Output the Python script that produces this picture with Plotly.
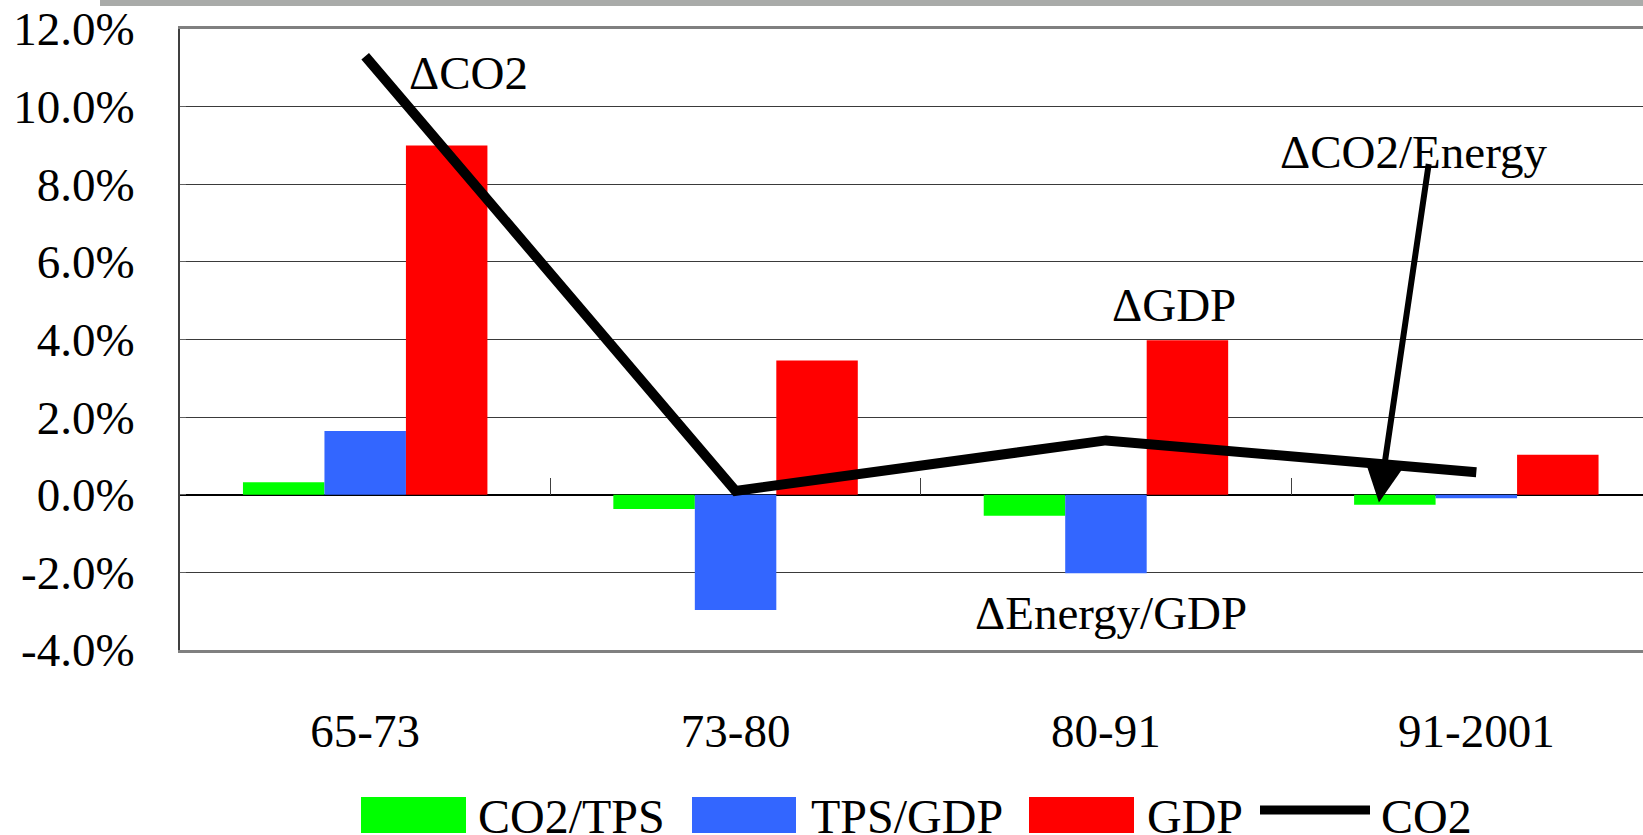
import plotly.graph_objects as go

# ---------------- data ----------------
categories = ["65-73", "73-80", "80-91", "91-2001"]
co2_tps = [0.32, -0.37, -0.54, -0.26]      # % per year
tps_gdp = [1.64, -2.97, -2.02, -0.09]
gdp = [9.0, 3.46, 3.98, 1.03]
co2 = [11.3, 0.1, 1.40, 0.58]
y_tickvals = [-4, -2, 0, 2, 4, 6, 8, 10, 12]
y_ticktext = ["-4.0%", "-2.0%", "0.0%", "2.0%", "4.0%", "6.0%", "8.0%", "10.0%", "12.0%"]

series_names = ["CO2/TPS", "TPS/GDP", "GDP", "CO2"]
c_green, c_blue, c_red, c_black = "#00FF00", "#3366FF", "#FF0000", "#000000"

FONT = "Liberation Serif"
W, H = 1643, 835
ML, MR, MT, MB = 180, 0, 29, 185
PW, PH = W - ML - MR, H - MT - MB


def px_x(px):
    return (px - ML) / PW


def px_y(py):
    return (H - MB - py) / PH


fig = go.Figure()
fig.add_trace(go.Bar(x=categories, y=co2_tps, name=series_names[0], marker_color=c_green, marker_line_width=0))
fig.add_trace(go.Bar(x=categories, y=tps_gdp, name=series_names[1], marker_color=c_blue, marker_line_width=0))
fig.add_trace(go.Bar(x=categories, y=gdp, name=series_names[2], marker_color=c_red, marker_line_width=0))
fig.add_trace(go.Scatter(x=categories, y=co2, name=series_names[3], mode="lines",
                         line=dict(color=c_black, width=10)))
# invisible trace so the boundary-tick axis at y=0 is drawn
fig.add_trace(go.Scatter(x=categories, y=co2, xaxis="x2", mode="lines",
                         line=dict(width=0), opacity=0, hoverinfo="skip", showlegend=False))

shapes = []
annotations = []

# top gray band (slide decoration)
shapes.append(dict(type="rect", xref="paper", yref="paper", x0=px_x(100), x1=px_x(W), y0=px_y(6), y1=px_y(0),
                   fillcolor="#a9aba9", line_width=0, layer="above"))

# manual legend
legend_items = [
    ("rect", c_green, 361, 466, series_names[0], 476),
    ("rect", c_blue, 692, 796, series_names[1], 809),
    ("rect", c_red, 1029, 1134, series_names[2], 1145),
    ("line", c_black, 1260, 1370, series_names[3], 1379),
]
for kind, col, x0, x1, label, tx in legend_items:
    if kind == "rect":
        shapes.append(dict(type="rect", xref="paper", yref="paper", x0=px_x(x0), x1=px_x(x1),
                           y0=px_y(833), y1=px_y(797), fillcolor=col, line_width=0))
    else:
        shapes.append(dict(type="line", xref="paper", yref="paper", x0=px_x(x0), x1=px_x(x1),
                           y0=px_y(810), y1=px_y(810), line=dict(color=col, width=9)))
    annotations.append(dict(text=label, xref="paper", yref="paper", x=px_x(tx), y=px_y(816),
                            xanchor="left", yanchor="middle", showarrow=False,
                            font=dict(family=FONT, size=48, color="#000000")))

# text labels in chart
for txt, tx, ty in [("ΔCO2", 407, 73), ("ΔCO2/Energy", 1278, 152), ("ΔGDP", 1110, 305),
                    ("ΔEnergy/GDP", 973, 613)]:
    annotations.append(dict(text=txt, xref="paper", yref="paper", x=px_x(tx), y=px_y(ty),
                            xanchor="left", yanchor="middle", showarrow=False,
                            font=dict(family=FONT, size=47, color="#000000")))

# arrow pointing to CO2/Energy bar
annotations.append(dict(text="", x=2.737, y=-0.2, xref="x", yref="y", ax=50, ay=-340,
                        showarrow=True, arrowhead=2, arrowsize=1.4, arrowwidth=6, arrowcolor="#000000"))

fig.update_layout(
    width=W, height=H,
    margin=dict(l=ML, r=MR, t=MT, b=MB),
    paper_bgcolor="white", plot_bgcolor="white",
    barmode="group", bargap=0.34, bargroupgap=0,
    showlegend=False,
    font=dict(family=FONT, size=47, color="#000000"),
    shapes=shapes, annotations=annotations,
    xaxis=dict(type="category", range=[-0.5, 3.45], showgrid=False, zeroline=False,
               showline=True, linecolor="#808080", linewidth=3, mirror=True,
               ticks="", ticklabelstandoff=38,
               tickfont=dict(family=FONT, size=47, color="#000000")),
    xaxis2=dict(type="category", overlaying="x", anchor="free", position=0.25, side="bottom",
                range=[-0.5, 3.45], showgrid=False, zeroline=False, showline=False,
                ticks="inside", tickson="boundaries", ticklen=17, tickcolor="#404040", tickwidth=1,
                showticklabels=False),
    yaxis=dict(range=[-4, 12], tickvals=y_tickvals, ticktext=y_ticktext,
               showgrid=True, gridcolor="#3a3a3a", gridwidth=1,
               zeroline=True, zerolinecolor="#000000", zerolinewidth=1.5,
               showline=True, linecolor="#404040", linewidth=2,
               ticks="inside", ticklen=6, tickcolor="#606060", ticklabelstandoff=34,
               tickfont=dict(family=FONT, size=47, color="#000000")),
)

fig.write_html("out.html", config={"displayModeBar": False},
               post_script="document.body.style.margin='0px';document.body.style.overflow='hidden';")
